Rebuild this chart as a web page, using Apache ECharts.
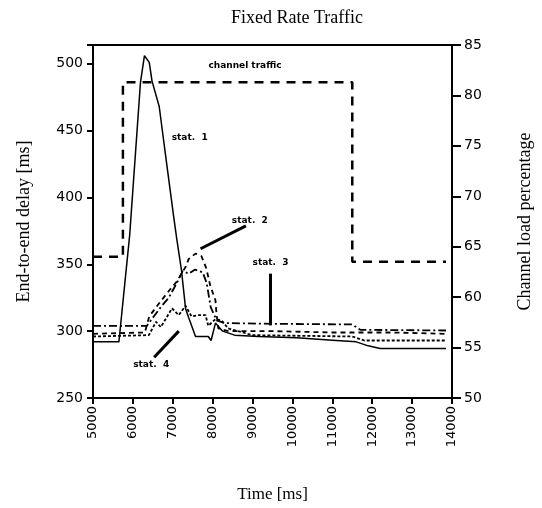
<!DOCTYPE html>
<html>
<head>
<meta charset="utf-8">
<script src="https://cdn.jsdelivr.net/npm/echarts@6/dist/echarts.min.js"></script>
<style>
  html, body { margin: 0; padding: 0; background: #fff; }
  #main { width: 542px; height: 508px; }
</style>
</head>
<body>
<div id="main"></div>
<script>
// time axis ticks (ms)
var timeTicks = [5000, 6000, 7000, 8000, 9000, 10000, 11000, 12000, 13000, 14000];

// channel traffic (right axis, %)
var trafficTime = [5000, 5750, 5750, 11500, 11500, 13850];
var trafficLoad = [64, 64, 81.3, 81.3, 63.5, 63.5];

// stat. 1 delay (ms)
var stat1Time = [5000, 5650, 5920, 6190, 6290, 6410, 6480, 6660, 6830, 7030, 7100, 7220, 7320, 7400, 7570, 7890, 7960, 8070, 8250, 8550, 9150, 10100, 11100, 11600, 11900, 12200, 13850];
var stat1Delay = [292, 292, 372, 486, 506, 501, 487, 468, 429, 384, 369, 345, 317, 310, 296, 296, 293, 306, 300, 297, 296, 295, 293, 292, 289, 287, 287];

// stat. 2 delay (ms)
var stat2Time = [5000, 6300, 6410, 6610, 6900, 7100, 7320, 7400, 7570, 7720, 7840, 7940, 8070, 8090, 8140, 8400, 9500, 11000, 12500, 13850];
var stat2Delay = [298, 299, 311, 319, 330, 337, 348, 354, 358, 356, 347, 334, 323, 315, 302, 300, 300, 299, 299, 298];

// stat. 3 delay (ms)
var stat3Time = [5000, 6350, 6500, 6700, 6900, 7100, 7250, 7400, 7550, 7750, 7850, 7950, 8100, 8300, 9500, 11500, 11700, 13850];
var stat3Delay = [304, 304, 310, 318, 325, 336, 345, 343, 346, 344, 336, 318, 308, 306, 305.5, 305, 301, 300.5];

// stat. 4 delay (ms)
var stat4Time = [5000, 6400, 6580, 6700, 6980, 7150, 7320, 7470, 7650, 7820, 7890, 8070, 8220, 8390, 9000, 11500, 11800, 13850];
var stat4Delay = [296, 297, 307, 303, 317, 312, 319, 311, 312, 312, 304, 309, 308, 302, 297, 296, 293, 293];

function pairs(xs, ys) {
	return xs.map(function (x, i) { return [x, ys[i]]; });
}

var myChart = echarts.init(document.getElementById('main'));

var serif = 'Liberation Serif';
var sans = 'DejaVu Sans';

// small text label placed at a data coordinate
function note(name, coord) {
	return {
		name: name,
		coord: coord,
		symbol: 'circle',
		symbolSize: 0,
		label: { show: true, position: 'inside', formatter: '{b}', color: '#000', fontFamily: sans, fontSize: 9, fontWeight: 'bold' }
	};
}

var pointer = { color: '#000', width: 3, type: 'solid' };

var option = {
	backgroundColor: '#fff',
	animation: false,
	title: {
		text: 'Fixed Rate Traffic',
		left: 226,
		top: 4,
		textStyle: { fontFamily: serif, fontSize: 18, fontWeight: 'normal', color: '#000' }
	},
	grid: {
		left: 93, right: 85, top: 45, bottom: 108,
		show: true, borderColor: '#000', borderWidth: 2, backgroundColor: 'transparent'
	},
	xAxis: {
		type: 'value',
		min: 5000, max: 14000, interval: 1000,
		name: 'Time [ms]',
		nameLocation: 'middle',
		nameGap: 88,
		nameTextStyle: { fontFamily: serif, fontSize: 17, color: '#000' },
		axisLine: { lineStyle: { color: '#000', width: 2 } },
		axisTick: { length: 6, lineStyle: { color: '#000', width: 2 } },
		axisLabel: {
			rotate: 90, margin: 8, color: '#000', fontFamily: sans, fontSize: 13,
			formatter: function (v) { return timeTicks.indexOf(v) >= 0 ? String(v) : ''; }
		},
		splitLine: { show: false }
	},
	yAxis: [{
		type: 'value',
		min: 250, max: 514, interval: 50,
		name: 'End-to-end delay [ms]',
		nameLocation: 'middle',
		nameRotate: 90,
		nameGap: 60,
		nameTextStyle: { fontFamily: serif, fontSize: 18, color: '#000' },
		axisLine: { show: true, lineStyle: { color: '#000', width: 2 } },
		axisTick: { show: true, length: 6, lineStyle: { color: '#000', width: 2 } },
		axisLabel: {
			margin: 10, color: '#000', fontFamily: sans, fontSize: 14,
			formatter: function (v) { return v % 50 === 0 ? String(v) : ''; }
		},
		splitLine: { show: false }
	}, {
		type: 'value',
		position: 'right',
		min: 50, max: 85, interval: 5,
		name: 'Channel load percentage',
		nameLocation: 'middle',
		nameRotate: 90,
		nameGap: 64,
		nameTextStyle: { fontFamily: serif, fontSize: 18, color: '#000' },
		axisLine: { show: true, lineStyle: { color: '#000', width: 2 } },
		axisTick: { show: true, length: 9, lineStyle: { color: '#000', width: 2 } },
		axisLabel: { margin: 12, color: '#000', fontFamily: sans, fontSize: 14 },
		splitLine: { show: false }
	}],
	series: [{
		name: 'channel traffic',
		type: 'line',
		yAxisIndex: 1,
		data: pairs(trafficTime, trafficLoad),
		showSymbol: false,
		lineStyle: { color: '#000', width: 2.5, type: [9, 7] },
		markPoint: { data: [note('channel traffic', [8810, 83])] }
	}, {
		name: 'stat. 1',
		type: 'line',
		data: pairs(stat1Time, stat1Delay),
		showSymbol: false,
		lineStyle: { color: '#000', width: 1.5 },
		markPoint: { data: [note('stat.  1', [7424, 445])] }
	}, {
		name: 'stat. 2',
		type: 'line',
		data: pairs(stat2Time, stat2Delay),
		showSymbol: false,
		lineStyle: { color: '#000', width: 1.8, type: [5, 4] },
		markPoint: { data: [note('stat.  2', [8932, 383])] },
		markLine: {
			symbol: 'none', silent: true, label: { show: false }, lineStyle: pointer,
			data: [[{ coord: [8833, 378.7] }, { coord: [7696, 361.6] }]]
		}
	}, {
		name: 'stat. 3',
		type: 'line',
		data: pairs(stat3Time, stat3Delay),
		showSymbol: false,
		lineStyle: { color: '#000', width: 1.8, type: [8, 3, 2, 3] },
		markPoint: { data: [note('stat.  3', [9451, 351])] },
		markLine: {
			symbol: 'none', silent: true, label: { show: false }, lineStyle: pointer,
			data: [[{ coord: [9451, 343] }, { coord: [9451, 304.3] }]]
		}
	}, {
		name: 'stat. 4',
		type: 'line',
		data: pairs(stat4Time, stat4Delay),
		showSymbol: false,
		lineStyle: { color: '#000', width: 1.8, type: [3, 2] },
		markPoint: { data: [note('stat.  4', [6459, 275])] },
		markLine: {
			symbol: 'none', silent: true, label: { show: false }, lineStyle: pointer,
			data: [[{ coord: [6533, 280.5] }, { coord: [7151, 300] }]]
		}
	}]
};

myChart.setOption(option);
</script>
</body>
</html>
